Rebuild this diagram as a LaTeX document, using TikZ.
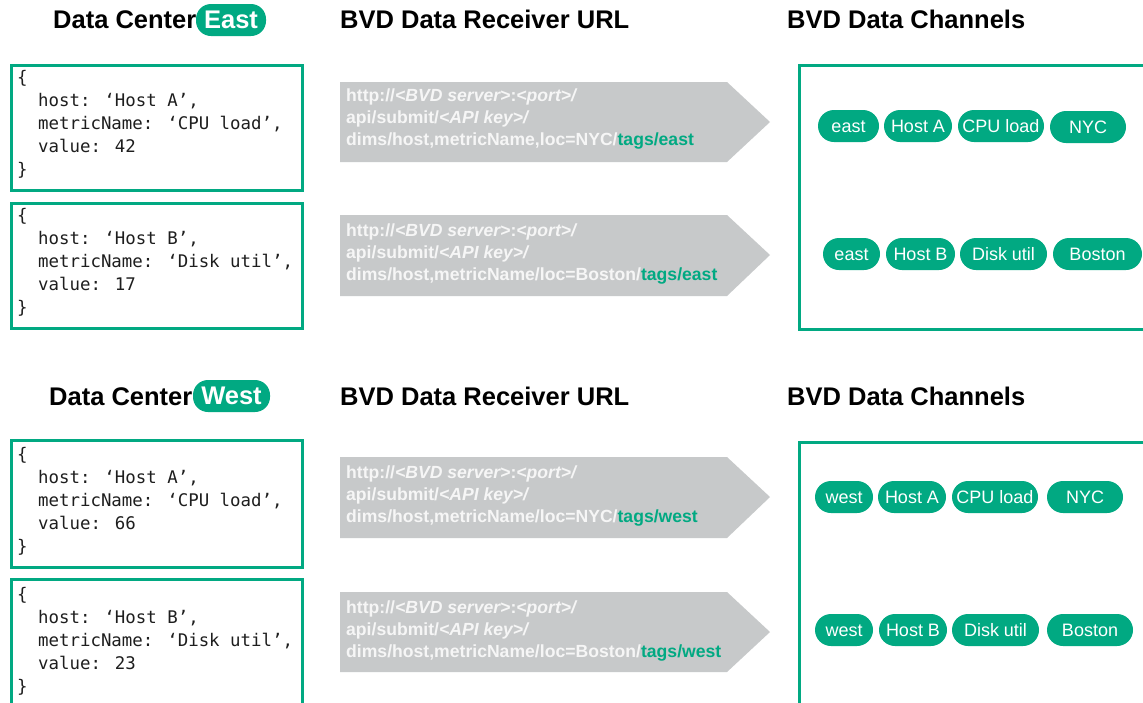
\documentclass[tikz,border=0pt]{standalone}
\usepackage{fontspec}
\setmainfont{Liberation Sans}
\newfontfamily\mymono{DejaVu Sans Mono}
\definecolor{hgreen}{HTML}{01A982}
\definecolor{arrowgray}{HTML}{C7C9CA}
\definecolor{codeink}{HTML}{1E1E1E}
\definecolor{urlink}{HTML}{F6F6F6}
\newcommand\mycodefont{\mymono\fontsize{17.4}{23}\selectfont}
\newcommand\myurlfont{\bfseries\fontsize{17.6}{22}\selectfont}
\newcommand\myheadfont{\bfseries\fontsize{25.5}{30}\selectfont}
\newcommand\mypillfont{\fontsize{18}{20}\selectfont}
\newcommand\ind{\phantom{xx}}
\tikzset{
  codebox/.style={draw=hgreen, line width=2.5pt, anchor=north west, inner sep=0, minimum width=291pt},
  chanbox/.style={draw=hgreen, line width=2.5pt, anchor=north west, inner sep=0, minimum width=420pt},
  codetext/.style={font=\mycodefont, align=left, anchor=north west, inner sep=0, text=codeink},
  urlarrow/.style={fill=arrowgray},
  urltext/.style={font=\myurlfont, align=left, anchor=north west, inner sep=0, text=urlink},
  header/.style={font=\myheadfont, anchor=base west, inner sep=0},
  titlepill/.style={fill=hgreen, text=white, font=\myheadfont, rounded corners=15pt, minimum height=32pt, inner sep=0},
  tagpill/.style={fill=hgreen, text=white, font=\mypillfont, rounded corners=16pt, minimum height=32pt, inner sep=0, text height=13pt, text depth=0pt},
}
\begin{document}
\begin{tikzpicture}[x=1pt, y=-1pt]
\useasboundingbox (0,0) rectangle (1143,702);
\clip (0,0) rectangle (1143,702);
\fill[white] (0,0) rectangle (1143,702);

% ---------- East ----------
\node[header] (hE1) at (53,28) {Data Center};
\node[titlepill, minimum width=70pt] (pE) at (231,20) {East};
\node[header] (hE2) at (340,28) {BVD Data Receiver URL};
\node[header] (hE3) at (787,28) {BVD Data Channels};

\node[codebox, minimum height=125pt] (boxE1) at (10,64) {};
\node[codetext] (codeE1) at (17,70) {\{\\\ind host: ‘Host A’,\\\ind metricName: ‘CPU load’,\\\ind value: 42\\\}};
\node[codebox, minimum height=125pt] (boxE2) at (10,202) {};
\node[codetext] (codeE2) at (17,208) {\{\\\ind host: ‘Host B’,\\\ind metricName: ‘Disk util’,\\\ind value: 17\\\}};

\fill[urlarrow] (340,82) -- (727,82) -- (770,122) -- (727,162) -- (340,162) -- cycle;
\node[urltext] (urlE1) at (346,89) {http://\textit{<BVD server>}:\textit{<port>/}\\api/submit/\textit{<API key>/}\\dims/host,metricName,loc=NYC/\textcolor{hgreen}{tags/east}};
\fill[urlarrow] (340,215) -- (727,215) -- (770,255) -- (727,296) -- (340,296) -- cycle;
\node[urltext] (urlE2) at (346,224) {http://\textit{<BVD server>}:\textit{<port>/}\\api/submit/\textit{<API key>/}\\dims/host,metricName/loc=Boston/\textcolor{hgreen}{tags/east}};

\node[chanbox, minimum height=264pt] (chanE) at (798,64) {};
\node[tagpill, minimum width=61pt] (e1a) at (848.5,126) {east};
\node[tagpill, minimum width=68pt] (e1b) at (918,126) {Host A};
\node[tagpill, minimum width=86pt] (e1c) at (1001,126) {CPU load};
\node[tagpill, minimum width=76pt] (e1d) at (1088,127) {NYC};
\node[tagpill, minimum width=57pt] (e2a) at (851.5,254) {east};
\node[tagpill, minimum width=69pt] (e2b) at (920.5,254) {Host B};
\node[tagpill, minimum width=87pt] (e2c) at (1003.5,254) {Disk util};
\node[tagpill, minimum width=89pt] (e2d) at (1097.5,254) {Boston};

% ---------- West ----------
\node[header] (hW1) at (49,405) {Data Center};
\node[titlepill, minimum width=77pt] (pW) at (231.5,396) {West};
\node[header] (hW2) at (340,405) {BVD Data Receiver URL};
\node[header] (hW3) at (787,405) {BVD Data Channels};

\node[codebox, minimum height=127pt] (boxW1) at (10,439) {};
\node[codetext] (codeW1) at (17,447) {\{\\\ind host: ‘Host A’,\\\ind metricName: ‘CPU load’,\\\ind value: 66\\\}};
\node[codebox, minimum height=140pt] (boxW2) at (10,578) {};
\node[codetext] (codeW2) at (17,587) {\{\\\ind host: ‘Host B’,\\\ind metricName: ‘Disk util’,\\\ind value: 23\\\}};

\fill[urlarrow] (340,457) -- (727,457) -- (770,497) -- (727,538) -- (340,538) -- cycle;
\node[urltext] (urlW1) at (346,466) {http://\textit{<BVD server>}:\textit{<port>/}\\api/submit/\textit{<API key>/}\\dims/host,metricName/loc=NYC/\textcolor{hgreen}{tags/west}};
\fill[urlarrow] (340,592) -- (727,592) -- (770,632) -- (727,672) -- (340,672) -- cycle;
\node[urltext] (urlW2) at (346,601) {http://\textit{<BVD server>}:\textit{<port>/}\\api/submit/\textit{<API key>/}\\dims/host,metricName/loc=Boston/\textcolor{hgreen}{tags/west}};

\node[chanbox, minimum height=300pt] (chanW) at (798,441) {};
\node[tagpill, minimum width=58pt] (w1a) at (844,497) {west};
\node[tagpill, minimum width=68pt] (w1b) at (912,497) {Host A};
\node[tagpill, minimum width=86pt] (w1c) at (995,497) {CPU load};
\node[tagpill, minimum width=76pt] (w1d) at (1085,497) {NYC};
\node[tagpill, minimum width=58pt] (w2a) at (844,630) {west};
\node[tagpill, minimum width=68pt] (w2b) at (913,630) {Host B};
\node[tagpill, minimum width=87pt] (w2c) at (995.5,630) {Disk util};
\node[tagpill, minimum width=86pt] (w2d) at (1090,630) {Boston};
\end{tikzpicture}
\end{document}
